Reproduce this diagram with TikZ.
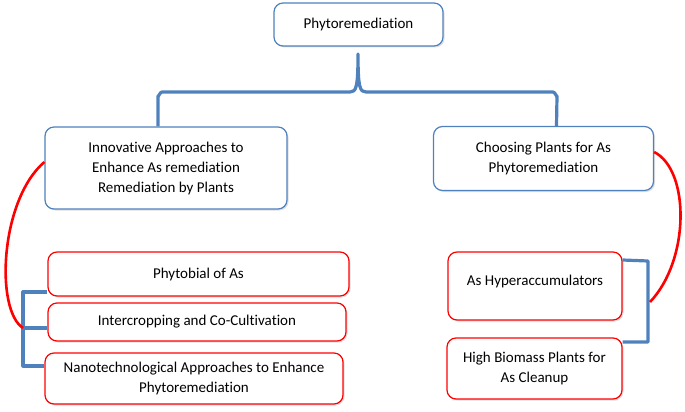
\documentclass[tikz,border=0pt]{standalone}
\usepackage{fontspec}
\setmainfont{Carlito}[Ligatures=NoCommon]
\usetikzlibrary{shadows}
\definecolor{offblue}{RGB}{79,129,189}

\tikzset{
  box/.style={draw=offblue,fill=white,rounded corners=9pt,line width=1.2pt,align=center,
    font=\fontsize{15}{20}\selectfont,drop shadow={opacity=0.25,shadow xshift=1.5pt,shadow yshift=-1.5pt}},
  redbox/.style={box,draw=red},
  brace/.style={draw=offblue,line width=3.2pt,line join=round},
  link/.style={draw=red,line width=2.6pt}
}

\begin{document}
\begin{tikzpicture}[x=1pt,y=-1pt]
    \useasboundingbox (0,0) rectangle (685,412);
    % boxes
    \draw (358.5,24.5) node[box,minimum width=169pt,minimum height=43pt] (top) {Phytoremediation};
    \draw (166,168) node[box,minimum width=242pt,minimum height=82pt] (innov) {Innovative Approaches to\\Enhance As remediation\\Remediation by Plants};
    \draw (543.5,158.5) node[box,minimum width=220pt,minimum height=64pt] (choose) {Choosing Plants for As\\Phytoremediation};
    \draw (198.5,274) node[redbox,minimum width=301pt,minimum height=44pt] (phyto) {Phytobial of As};
    \draw (197,322) node[redbox,minimum width=298pt,minimum height=38pt] (inter) {Intercropping and Co-Cultivation};
    \draw (194,378.5) node[redbox,minimum width=298pt,minimum height=51pt] (nano) {Nanotechnological Approaches to Enhance\\Phytoremediation};
    \draw (535,286) node[redbox,minimum width=174pt,minimum height=68pt,text depth=12pt] (hyper) {As Hyperaccumulators};
    \draw (534.5,368.5) node[redbox,minimum width=175pt,minimum height=61pt] (biomass) {High Biomass Plants for\\As Cleanup};
    % braces
    \coordinate (cusp) at (358,54);
    \draw[brace] ([xshift=-8pt]innov.north) -- (158,96) to[out=-90,in=180] (162,92) -- (350,92)
        .. controls (356,92) and (358,88) .. (cusp)
        .. controls (358,88) and (360,92) .. (366,92) -- (553,92) to[out=0,in=-90] (557,96) -- ([xshift=13pt]choose.north);
    \coordinate (lmid) at (23,328);
    \draw[brace] (phyto.west |- 0,292) -- (23,292) -- (lmid) -- (inter.west |- lmid);
    \draw[brace] (lmid) -- (23,366) -- (nano.west |- 0,366);
    \coordinate (rmid) at (650,302);
    \draw[brace] (hyper.east |- 0,260) -- (648,261) -- (648,342) -- (biomass.east |- 0,342);
    % red links
    \draw[link] (innov.west |- 0,162) .. controls (0,200) and (-5,310) .. (lmid);
    \draw[link] (choose.east |- 0,152) .. controls (690,170) and (690,260) .. (rmid);
\end{tikzpicture}
\end{document}
